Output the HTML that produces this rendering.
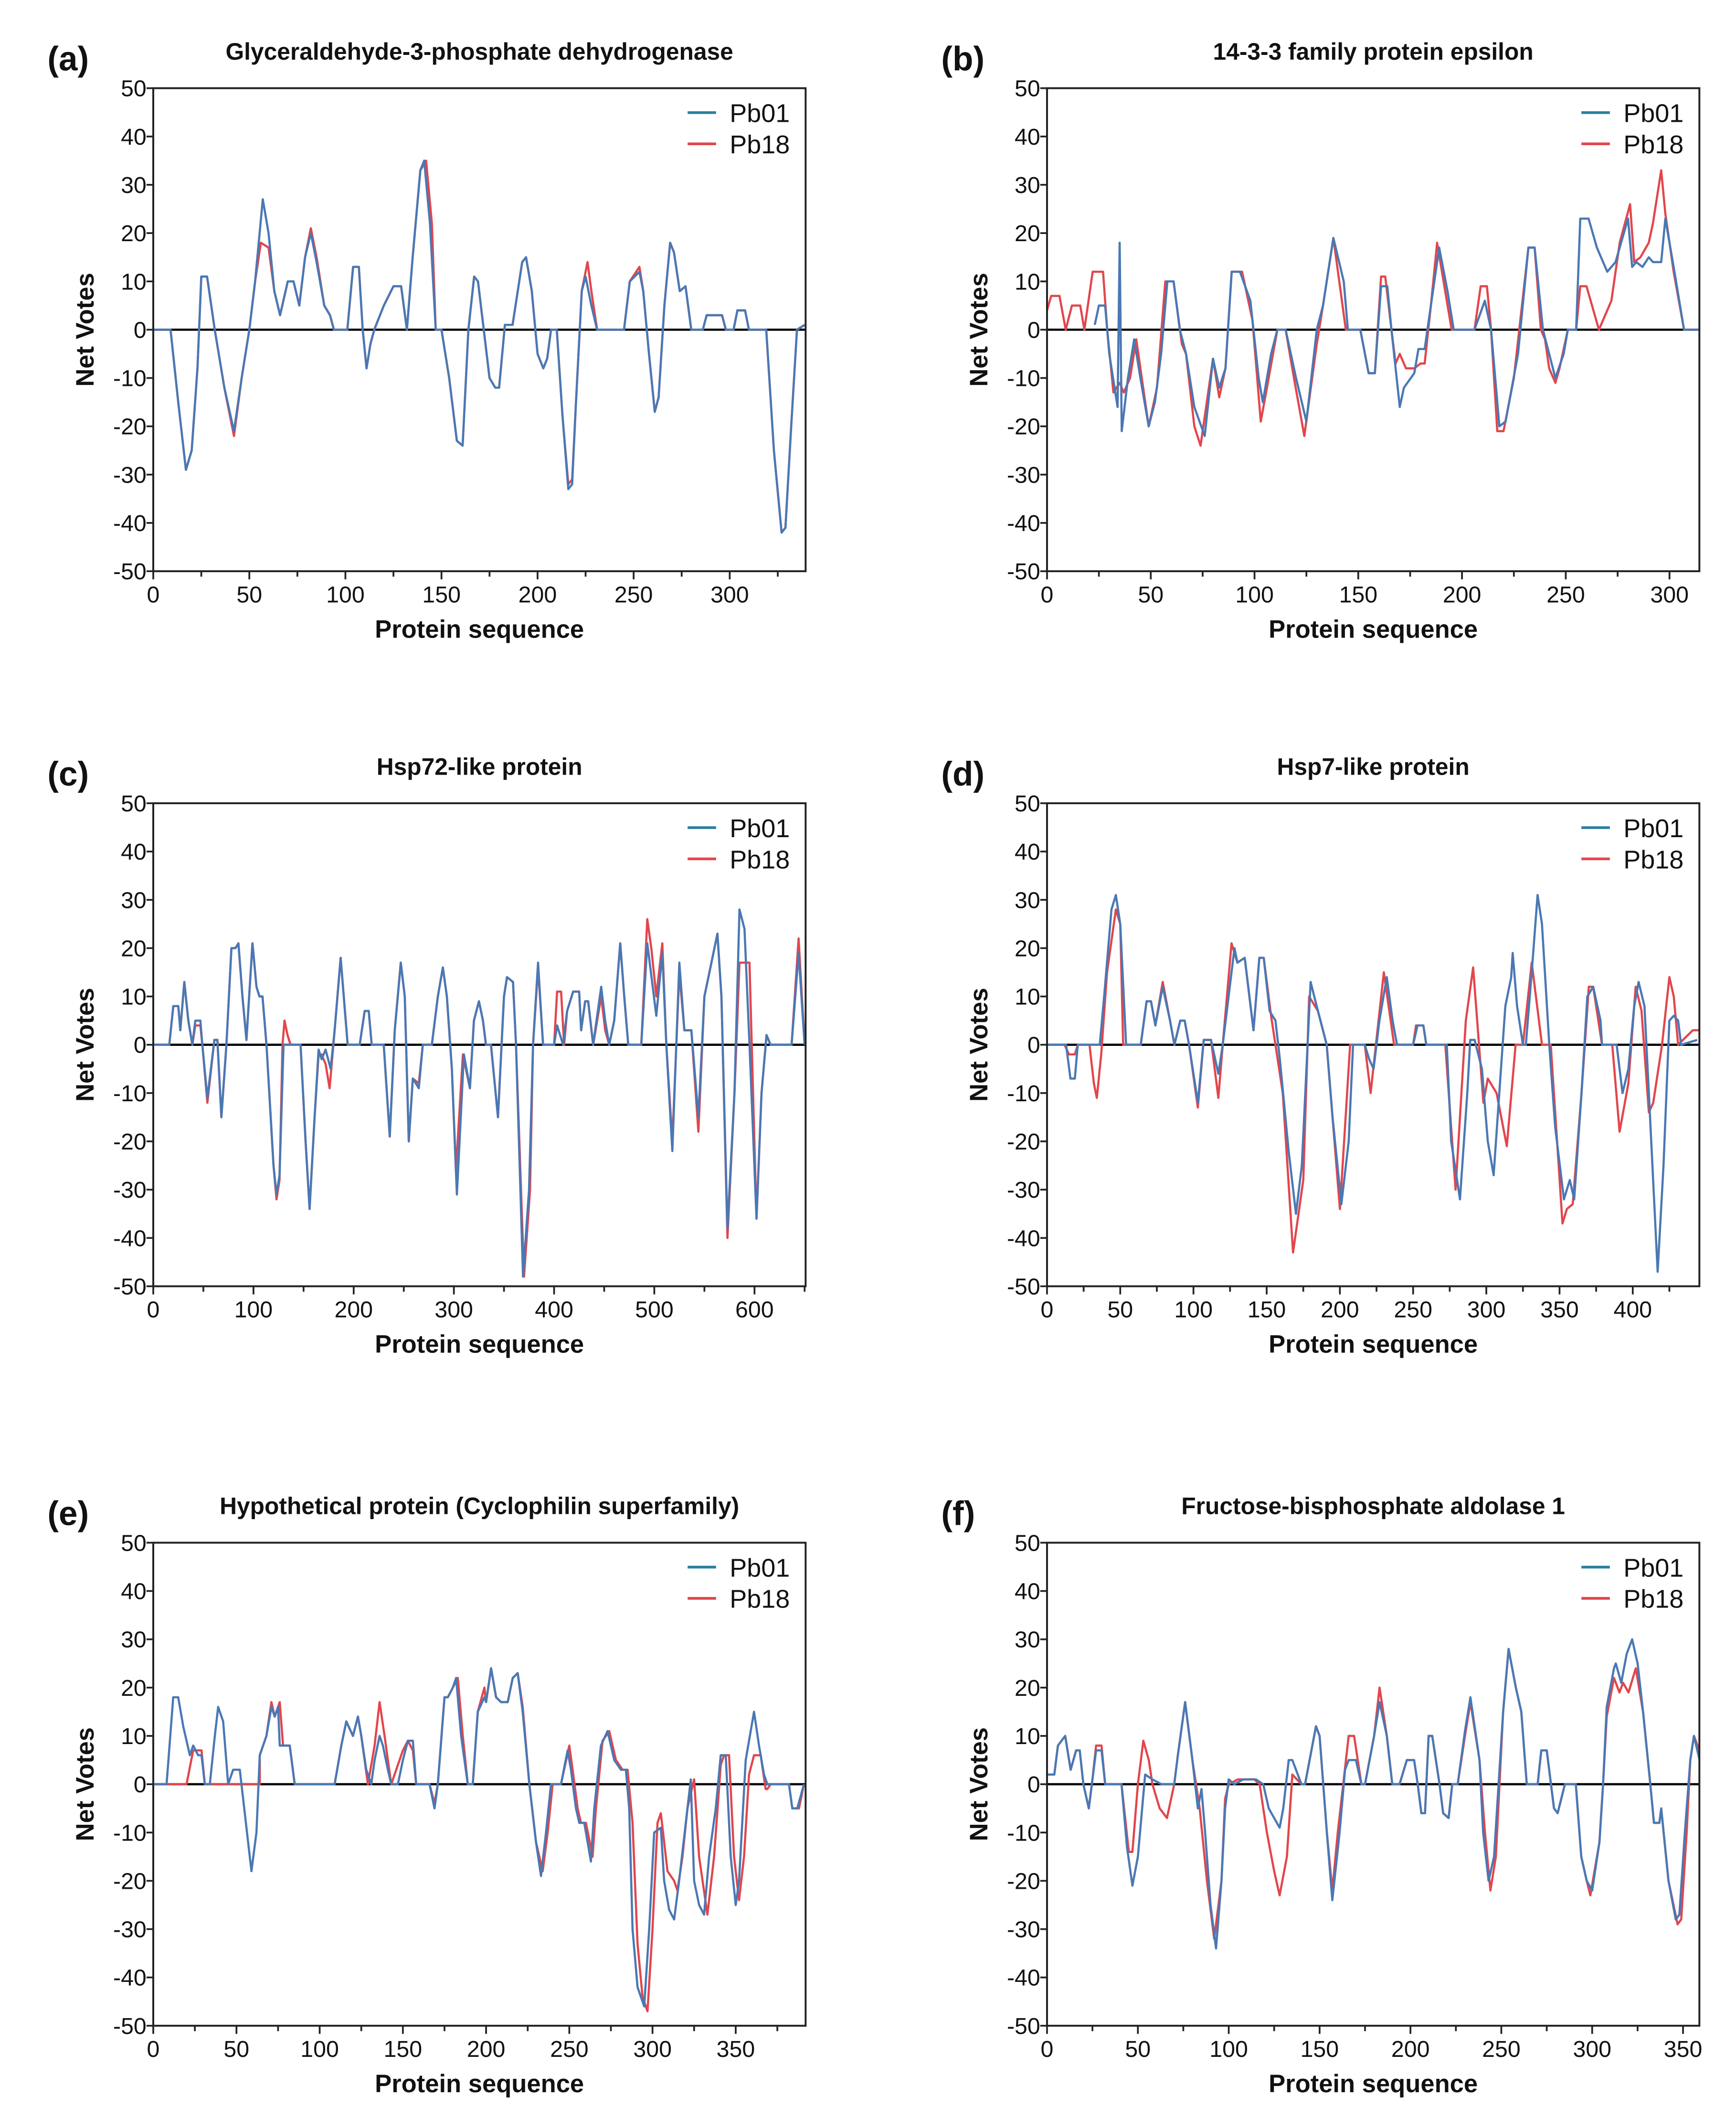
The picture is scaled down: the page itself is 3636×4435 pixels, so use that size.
<!DOCTYPE html>
<html><head><meta charset="utf-8"><style>
html,body{margin:0;padding:0;background:#fff;}
svg{display:block;}
text{font-family:"Liberation Sans",Arial,sans-serif;fill:#111;}
</style></head><body>
<svg id="fig" width="3636" height="4435" viewBox="0 0 1280 1561" preserveAspectRatio="none" xmlns="http://www.w3.org/2000/svg"></svg>
<script>
const panelLetters = ["(a)","(b)","(c)","(d)","(e)","(f)"];
const panelTitles = ["Glyceraldehyde-3-phosphate dehydrogenase","14-3-3 family protein epsilon","Hsp72-like protein","Hsp7-like protein","Hypothetical protein (Cyclophilin superfamily)","Fructose-bisphosphate aldolase 1"];
const xMaxes = [339.5,314.4,651,445.5,392,359];
const xTickSteps = [50,50,100,50,50,50];
const xTickMax = [300,300,600,400,350,350];
const yTicks = [50,40,30,20,10,0,-10,-20,-30,-40,-50];
const seriesNames = ["Pb01","Pb18"];

const pb01_a = [[0,0],[9,0],[13,-15],[17,-29],[20,-25],[23,-8],[25,11],[28,11],[32,0],[37,-12],[42,-21],[46,-10],[50,0],[53,10],[57,27],[60,20],[63,8],[66,3],[70,10],[73,10],[76,5],[79,15],[82,20],[85,14],[89,5],[92,3],[94,0],[101,0],[104,13],[107,13],[109,0],[111,-8],[113,-3],[115,0],[120,5],[125,9],[129,9],[132,0],[135,15],[139,33],[141,35],[144,22],[147,0],[150,0],[154,-10],[158,-23],[161,-24],[164,0],[167,11],[169,10],[172,0],[175,-10],[178,-12],[180,-12],[183,1],[187,1],[192,14],[194,15],[197,8],[200,-5],[203,-8],[205,-6],[207,0],[210,0],[213,-18],[216,-33],[218,-32],[220,-15],[223,8],[225,11],[228,5],[231,0],[245,0],[248,10],[253,12],[255,8],[258,-5],[261,-17],[263,-14],[266,5],[269,18],[271,16],[274,8],[277,9],[280,0],[286,0],[288,3],[296,3],[298,0],[302,0],[304,4],[308,4],[310,0],[319,0],[323,-25],[327,-42],[329,-41],[332,-20],[335,0],[339,1]];
const pb18_a = [[0,0],[9,0],[13,-15],[17,-29],[20,-25],[23,-8],[25,11],[28,11],[32,0],[37,-12],[42,-22],[46,-10],[50,0],[53,10],[56,18],[60,17],[63,8],[66,3],[70,10],[73,10],[76,5],[79,15],[82,21],[85,15],[89,5],[92,3],[94,0],[101,0],[104,13],[107,13],[109,0],[111,-8],[113,-3],[115,0],[120,5],[125,9],[129,9],[132,0],[135,15],[139,33],[142,35],[145,22],[147,0],[150,0],[154,-10],[158,-23],[161,-24],[164,0],[167,11],[169,10],[172,0],[175,-10],[178,-12],[180,-12],[183,1],[187,1],[192,14],[194,15],[197,8],[200,-5],[203,-8],[205,-6],[207,0],[210,0],[213,-18],[216,-32],[218,-31],[220,-15],[223,8],[226,14],[228,8],[231,0],[245,0],[248,10],[253,13],[255,8],[258,-5],[261,-17],[263,-14],[266,5],[269,18],[271,16],[274,8],[277,9],[280,0],[286,0],[288,3],[296,3],[298,0],[302,0],[304,4],[308,4],[310,0],[319,0],[323,-25],[327,-42],[329,-41],[332,-20],[335,0],[339,1]];

const pb01_b = [[23,1],[25,5],[28,5],[30,-5],[34,-16],[35,18],[36,-21],[39,-10],[42,-2],[45,-10],[49,-20],[52,-15],[55,-5],[58,10],[61,10],[64,0],[67,-5],[71,-16],[76,-22],[80,-6],[83,-12],[86,-8],[89,12],[93,12],[98,6],[102,-10],[104,-15],[108,-5],[111,0],[115,0],[120,-10],[125,-19],[130,0],[133,5],[138,19],[143,10],[145,0],[151,0],[155,-9],[158,-9],[161,9],[164,9],[166,0],[170,-16],[172,-12],[177,-9],[179,-4],[182,-4],[185,5],[189,17],[193,8],[196,0],[206,0],[211,6],[214,0],[218,-20],[221,-19],[227,-5],[232,17],[235,17],[239,0],[242,-5],[245,-10],[249,-5],[251,0],[255,0],[257,23],[261,23],[265,17],[270,12],[274,14],[280,23],[282,13],[284,14],[287,13],[290,15],[292,14],[296,14],[298,23],[302,13],[307,0],[315,0]];
const pb18_b = [[0,4],[2,7],[6,7],[9,0],[12,5],[16,5],[18,0],[22,12],[27,12],[29,0],[32,-13],[35,-11],[37,-13],[40,-10],[43,-2],[49,-20],[53,-12],[57,10],[61,10],[65,-3],[67,-5],[71,-20],[74,-24],[80,-6],[83,-14],[86,-8],[89,12],[94,12],[99,2],[103,-19],[106,-12],[111,0],[115,0],[119,-10],[124,-22],[130,-3],[133,5],[138,19],[144,0],[151,0],[155,-9],[158,-9],[161,11],[163,11],[166,0],[168,-7],[170,-5],[173,-8],[177,-8],[180,-7],[182,-7],[185,5],[188,18],[195,0],[206,0],[209,9],[212,9],[214,0],[217,-21],[220,-21],[225,-10],[232,17],[235,17],[238,0],[240,-2],[242,-8],[245,-11],[247,-8],[251,0],[255,0],[257,9],[260,9],[266,0],[272,6],[276,18],[281,26],[283,14],[286,15],[290,18],[292,22],[296,33],[298,24],[302,12],[307,0],[315,0]];

const pb01_c = [[0,0],[16,0],[20,8],[25,8],[27,3],[31,13],[35,5],[39,0],[42,5],[47,5],[49,0],[54,-11],[61,1],[64,1],[68,-15],[73,0],[78,20],[82,20],[85,21],[89,10],[93,1],[99,21],[103,12],[106,10],[109,10],[113,0],[120,-25],[123,-31],[126,-27],[130,0],[147,0],[152,-20],[156,-34],[161,-15],[165,-1],[168,-3],[172,-1],[177,-5],[181,3],[187,18],[194,0],[206,0],[211,7],[215,7],[218,0],[230,0],[236,-19],[241,3],[247,17],[251,10],[255,-20],[259,-7],[265,-9],[269,0],[278,0],[284,10],[289,16],[293,10],[298,-5],[303,-31],[310,-2],[316,-9],[320,5],[325,9],[329,5],[332,0],[337,0],[344,-15],[350,10],[353,14],[359,13],[362,0],[369,-48],[375,-30],[379,0],[384,17],[389,0],[400,0],[403,4],[409,0],[413,7],[419,11],[425,11],[427,3],[431,9],[434,9],[439,0],[447,12],[451,5],[455,0],[460,5],[466,21],[470,10],[474,0],[487,0],[493,21],[502,6],[508,19],[512,0],[518,-22],[525,17],[530,3],[537,3],[544,-15],[550,10],[554,14],[563,23],[567,10],[573,-38],[580,-10],[585,28],[590,24],[595,0],[602,-36],[607,-10],[612,2],[616,0],[637,0],[644,19],[650,0]];
const pb18_c = [[0,0],[16,0],[20,8],[25,8],[27,3],[31,13],[35,5],[39,0],[42,4],[47,4],[49,0],[54,-12],[61,1],[64,1],[68,-15],[73,0],[78,20],[82,20],[85,21],[89,10],[93,1],[99,21],[103,12],[106,10],[109,10],[113,0],[120,-25],[123,-32],[126,-28],[129,0],[131,5],[134,2],[137,0],[147,0],[152,-20],[156,-34],[161,-15],[165,-2],[168,-2],[172,-4],[176,-9],[181,3],[187,18],[194,0],[206,0],[211,7],[215,7],[218,0],[230,0],[236,-19],[241,3],[247,17],[251,10],[255,-20],[259,-7],[265,-8],[269,0],[278,0],[284,10],[289,16],[293,10],[298,-5],[302,-26],[309,-2],[316,-9],[320,5],[325,9],[329,5],[332,0],[337,0],[344,-15],[350,10],[353,14],[359,13],[362,0],[370,-48],[376,-30],[379,0],[384,16],[389,0],[400,0],[403,11],[407,11],[410,0],[413,7],[419,11],[425,11],[427,3],[431,9],[434,9],[439,0],[447,10],[451,3],[455,0],[460,5],[466,21],[470,10],[474,0],[487,0],[493,26],[497,20],[502,10],[508,21],[512,0],[518,-20],[525,15],[530,3],[537,3],[544,-18],[550,10],[554,14],[563,23],[567,10],[573,-40],[580,-10],[585,17],[595,17],[602,-36],[607,-10],[612,2],[616,0],[637,0],[644,22],[650,0]];

const pb01_d = [[0,0],[13,0],[16,-7],[19,-7],[21,0],[36,0],[39,10],[44,28],[47,31],[50,25],[54,0],[64,0],[68,9],[71,9],[74,4],[79,12],[84,5],[87,0],[91,5],[94,5],[97,0],[103,-12],[107,1],[112,1],[117,-6],[120,0],[128,20],[130,17],[135,18],[141,3],[145,18],[148,18],[152,7],[156,5],[159,-3],[165,-22],[170,-35],[174,-25],[180,13],[185,7],[191,0],[195,-15],[201,-33],[206,-20],[209,0],[217,0],[220,-3],[223,-5],[227,5],[232,14],[236,5],[239,0],[250,0],[253,4],[257,4],[259,0],[273,0],[276,-20],[282,-32],[287,-10],[289,1],[292,1],[297,-5],[301,-20],[305,-27],[310,-5],[313,8],[317,14],[318,19],[321,8],[325,0],[327,0],[331,15],[335,31],[338,25],[343,0],[347,-17],[353,-32],[357,-28],[360,-32],[365,-10],[369,10],[373,12],[378,5],[379,0],[389,0],[393,-10],[397,-5],[401,8],[404,13],[408,8],[411,-10],[417,-47],[421,-25],[425,5],[428,6],[431,5],[433,0],[444,1]];
const pb18_d = [[0,0],[12,0],[15,-2],[19,-2],[21,0],[29,0],[32,-8],[34,-11],[37,-2],[41,15],[47,28],[50,25],[52,0],[64,0],[68,9],[71,9],[74,4],[79,13],[84,5],[87,0],[91,5],[94,5],[97,0],[103,-13],[107,1],[112,1],[117,-11],[120,0],[126,21],[130,17],[135,18],[141,3],[145,18],[148,18],[153,6],[161,-10],[168,-43],[175,-28],[179,10],[185,7],[191,0],[200,-34],[207,0],[217,0],[221,-10],[230,15],[237,0],[250,0],[252,4],[257,4],[259,0],[272,0],[279,-30],[286,5],[291,16],[298,-12],[301,-7],[307,-10],[314,-21],[320,0],[325,0],[331,17],[338,0],[344,0],[352,-37],[355,-34],[359,-33],[365,-10],[370,12],[373,12],[379,0],[386,0],[391,-18],[397,-8],[402,12],[406,7],[411,-14],[414,-12],[420,0],[425,14],[428,10],[431,0],[441,3],[446,3]];

const pb01_e = [[0,0],[8,0],[12,18],[15,18],[18,12],[22,6],[24,8],[27,6],[29,6],[31,0],[34,0],[37,10],[39,16],[42,13],[45,0],[48,3],[52,3],[54,-3],[57,-12],[59,-18],[62,-10],[64,6],[68,10],[71,16],[73,14],[75,16],[76,8],[82,8],[85,0],[109,0],[113,8],[116,13],[120,10],[123,14],[125,10],[128,3],[131,0],[133,5],[136,10],[138,8],[141,3],[143,0],[147,0],[150,5],[153,9],[156,9],[158,0],[166,0],[169,-5],[171,0],[175,18],[177,18],[180,20],[182,22],[185,10],[189,0],[192,0],[195,15],[199,18],[200,17],[203,24],[206,18],[209,17],[213,17],[216,22],[219,23],[222,15],[226,0],[230,-12],[233,-19],[236,-10],[239,0],[245,0],[249,7],[251,3],[254,-5],[256,-8],[259,-8],[263,-16],[265,-5],[269,8],[273,11],[277,5],[281,3],[284,3],[286,-5],[288,-30],[291,-42],[295,-46],[298,-30],[301,-10],[305,-9],[307,-20],[310,-26],[313,-28],[316,-20],[320,-8],[323,1],[325,-20],[328,-25],[331,-27],[334,-15],[338,-5],[341,6],[344,6],[347,-15],[350,-25],[352,-20],[356,5],[361,15],[364,8],[367,2],[369,0],[382,0],[384,-5],[387,-5],[391,0]];
const pb18_e = [[0,0],[20,0],[24,7],[29,7],[31,0],[64,0],[64,6],[68,10],[71,17],[73,14],[76,17],[78,8],[82,8],[85,0],[109,0],[113,8],[116,13],[120,10],[123,14],[125,10],[129,0],[133,8],[136,17],[139,10],[143,0],[147,4],[150,7],[153,9],[156,7],[158,0],[166,0],[169,-4],[171,0],[175,18],[177,18],[180,20],[183,22],[186,10],[189,0],[192,0],[195,15],[199,20],[200,17],[203,24],[206,18],[209,17],[213,17],[216,22],[219,23],[222,16],[226,0],[230,-12],[234,-18],[237,-10],[240,0],[245,0],[250,8],[252,3],[255,-5],[257,-8],[260,-8],[264,-15],[266,-5],[270,9],[274,11],[278,5],[282,3],[285,3],[288,-8],[291,-33],[294,-44],[297,-47],[300,-30],[303,-8],[305,-6],[309,-18],[313,-20],[315,-22],[318,-15],[321,-5],[325,1],[328,-15],[333,-27],[337,-15],[341,4],[343,6],[346,6],[349,-15],[352,-24],[355,-15],[358,2],[361,6],[365,6],[368,-1],[369,-1],[371,0],[382,0],[384,-5],[388,-5],[391,0]];

const pb01_f = [[0,2],[2,2],[4,2],[6,8],[10,10],[13,3],[16,7],[18,7],[20,0],[23,-5],[25,1],[27,7],[30,7],[32,0],[41,0],[44,-13],[47,-21],[50,-15],[54,2],[58,1],[63,0],[70,0],[72,6],[76,17],[80,5],[83,-5],[85,-1],[87,-10],[90,-25],[93,-34],[96,-20],[98,-5],[100,1],[103,0],[108,1],[115,1],[119,0],[122,-5],[125,-7],[128,-9],[130,-5],[133,5],[135,5],[140,0],[142,0],[145,6],[148,12],[150,10],[154,-10],[157,-24],[161,-10],[164,3],[166,5],[170,5],[173,0],[175,0],[180,10],[183,17],[187,10],[190,0],[194,0],[198,5],[202,5],[204,0],[206,-6],[208,-6],[210,10],[212,10],[216,0],[218,-6],[221,-7],[223,0],[226,0],[230,11],[233,18],[238,5],[240,-10],[243,-20],[246,-15],[251,15],[254,28],[258,20],[261,15],[264,0],[270,0],[272,7],[275,7],[279,-5],[281,-6],[285,0],[291,0],[294,-15],[297,-20],[300,-22],[304,-12],[306,0],[308,16],[312,24],[313,25],[316,21],[319,27],[322,30],[325,25],[328,15],[332,0],[334,-8],[337,-8],[338,-5],[342,-20],[346,-28],[348,-27],[351,-10],[354,5],[356,10],[361,2]];
const pb18_f = [[0,2],[2,2],[4,2],[6,8],[10,10],[13,3],[16,7],[18,7],[20,0],[23,-5],[25,1],[27,8],[30,8],[32,0],[35,0],[41,0],[45,-14],[47,-14],[50,0],[53,9],[56,5],[58,0],[62,-5],[66,-7],[70,0],[72,6],[76,17],[80,5],[84,-5],[88,-20],[92,-32],[96,-20],[98,-3],[100,0],[105,1],[114,1],[117,0],[121,-10],[125,-18],[128,-23],[132,-15],[135,2],[140,0],[142,0],[145,6],[148,12],[150,10],[154,-10],[157,-22],[160,-10],[163,0],[166,10],[169,10],[173,0],[175,0],[180,10],[183,20],[187,10],[190,0],[194,0],[198,5],[202,5],[204,0],[206,-6],[208,-6],[210,10],[212,10],[216,0],[218,-6],[221,-7],[223,0],[226,0],[230,10],[233,17],[238,5],[241,-10],[244,-22],[247,-15],[251,15],[254,28],[258,20],[261,15],[264,0],[270,0],[272,7],[275,7],[279,-5],[281,-6],[285,0],[291,0],[294,-15],[297,-20],[299,-23],[304,-12],[306,0],[308,14],[312,22],[315,19],[317,21],[320,19],[324,24],[328,15],[332,0],[334,-8],[337,-8],[338,-5],[342,-20],[347,-29],[349,-28],[352,-10],[354,5],[356,10],[361,5]];

const pb01Series = [pb01_a,pb01_b,pb01_c,pb01_d,pb01_e,pb01_f];
const pb18Series = [pb18_a,pb18_b,pb18_c,pb18_d,pb18_e,pb18_f];

const NS = "http://www.w3.org/2000/svg";
const svg = document.getElementById("fig");
const BLUE = "#4a78b4", RED = "#e2464c";
function mk(tag, attrs, parent){
  const e = document.createElementNS(NS, tag);
  for (const k in attrs) e.setAttribute(k, attrs[k]);
  (parent||svg).appendChild(e);
  return e;
}
const lefts = [113,772];
const tops = [65,592,1137];
for (let p = 0; p < 6; p++) {
  const L = lefts[p%2], R = L + 481, T = tops[Math.floor(p/2)], B = T + 356;
  const g = mk("g", {});
  
  
  const xs = v => L + v / xMaxes[p] * (R - L);
  const ys = v => T + (50 - v) / 100 * (B - T);
  const cid = "clip" + p;
  const cp = mk("clipPath", {id: cid}, g);
  mk("rect", {x: L, y: T, width: R - L, height: B - T}, cp);
  // letter & title
  const lt = mk("text", {x: L - 78, y: T - 13, "font-size": 25, "font-weight": "bold"}, g);
  lt.textContent = panelLetters[p];
  
  
  const tt = mk("text", {x: (L + R) / 2, y: T - 21, "font-size": 17.5, "font-weight": "bold", "text-anchor": "middle"}, g);
  tt.textContent = panelTitles[p];
  
  
  // y ticks
  for (const v of yTicks) {
    const y = ys(v);
    mk("line", {x1: L - 5, x2: L, y1: y, y2: y, stroke: "#222", "stroke-width": 1.3}, g);
    const t = mk("text", {x: L - 5, y: y + 6, "font-size": 17, "text-anchor": "end"}, g);
    t.textContent = v;
    
    
  }
  // x ticks
  const st = xTickSteps[p];
  for (let v = 0; v <= xMaxes[p]; v += st / 2) {
    const x = xs(v);
    const major = (v % st === 0);
    mk("line", {x1: x, x2: x, y1: B, y2: B + (major ? 6 : 4), stroke: "#222", "stroke-width": 1.3}, g);
    if (major && v <= xTickMax[p]) {
      const t = mk("text", {x: x, y: B + 23, "font-size": 17, "text-anchor": "middle"}, g);
      t.textContent = v;
      
      
    }
  }
  const yl = mk("text", {x: 0, y: 0, "font-size": 18.5, "font-weight": "bold", "text-anchor": "middle", transform: "translate(" + (L - 44) + "," + ((T + B) / 2) + ") rotate(-90)"}, g);
  yl.textContent = "Net Votes";
  
  
  const xl = mk("text", {x: (L + R) / 2, y: B + 49, "font-size": 18.5, "font-weight": "bold", "text-anchor": "middle"}, g);
  xl.textContent = "Protein sequence";
  
  
  // zero line
  const zl = mk("line", {x1: L, x2: R, y1: ys(0), y2: ys(0), stroke: "#000", "stroke-width": 1.6}, g);
  
  
  // series
  const draw = (arr, col, nm) => {
    const d = arr.map((pt, i) => (i ? "L" : "M") + xs(pt[0]).toFixed(2) + "," + ys(pt[1]).toFixed(2)).join("");
    const path = mk("path", {d: d, fill: "none", stroke: col, "stroke-width": 1.6, "stroke-linejoin": "round", "clip-path": "url(#" + cid + ")"}, g);
    
    
  };
  draw(pb18Series[p], RED, 'pb18-line');
  draw(pb01Series[p], BLUE, 'pb01-line');
  // frame
  const fr = mk("rect", {x: L, y: T, width: R - L, height: B - T, fill: "none", stroke: "#222", "stroke-width": 1.4}, g);
  
  
  // legend
  const cols = ["#2a7f9e", RED];
  for (let i = 0; i < 2; i++) {
    const ly = T + 18 + i * 23;
    const ll = mk("line", {x1: R - 87, x2: R - 66, y1: ly, y2: ly, stroke: cols[i], "stroke-width": 2}, g);
    
    
    const lt2 = mk("text", {x: R - 56, y: ly + 7, "font-size": 19}, g);
    lt2.textContent = seriesNames[i];
    
    
  }
}
</script>
</body></html>
